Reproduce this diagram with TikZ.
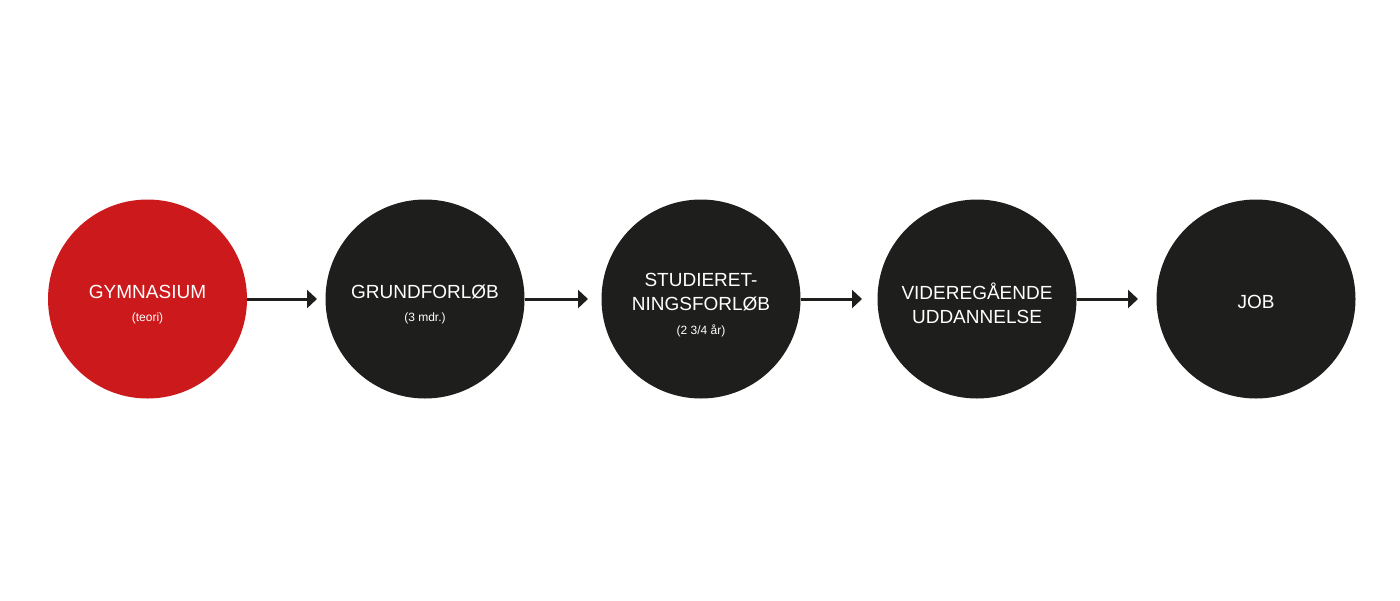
\documentclass[tikz,border=0pt]{standalone}
\usepackage{fontspec}
\setmainfont{Liberation Sans}
\usetikzlibrary{arrows.meta}
\definecolor{cred}{HTML}{CC1A1C}
\definecolor{cblack}{HTML}{1E1E1C}
\begin{document}
\begin{tikzpicture}[x=1pt,y=-1pt,
  stage/.style={circle,fill=cblack,minimum size=199pt,inner sep=0pt},
  lbl/.style={text=white,font=\fontsize{19}{24}\selectfont,align=center},
  sub/.style={text=white,font=\fontsize{12}{14}\selectfont},
  conn/.style={draw=cblack,line width=3pt,-{Triangle[length=10pt,width=18pt]}}]
\useasboundingbox (0,0) rectangle (1400,600);
\node[stage,fill=cred] (c1) at (147.5,299) {};
\node[stage] (c2) at (425,299) {};
\node[stage] (c3) at (701,299) {};
\node[stage] (c4) at (977,299) {};
\node[stage] (c5) at (1256,299) {};
\node[lbl] (t1) at (147.5,292) {GYMNASIUM};
\node[sub] (s1) at (147.5,318.5) {(teori)};
\node[lbl] (t2) at (425,292) {GRUNDFORLØB};
\node[sub] (s2) at (425,318.5) {(3 mdr.)};
\node[lbl] (t3) at (701,292) {STUDIERET-\\NINGSFORLØB};
\node[sub] (s3) at (701,330.5) {(2 3/4 år)};
\node[lbl] (t4) at (977,303) {VIDEREGÅENDE\\UDDANNELSE};
\node[lbl] (t5) at (1256,302) {JOB};
\coordinate (e1) at (317,299);
\coordinate (e2) at (588,299);
\coordinate (e3) at (862,299);
\coordinate (e4) at (1138,299);
\draw[conn] (c1.east) -- (e1);
\draw[conn] (c2.east) -- (e2);
\draw[conn] (c3.east) -- (e3);
\draw[conn] (c4.east) -- (e4);
\end{tikzpicture}
\end{document}
